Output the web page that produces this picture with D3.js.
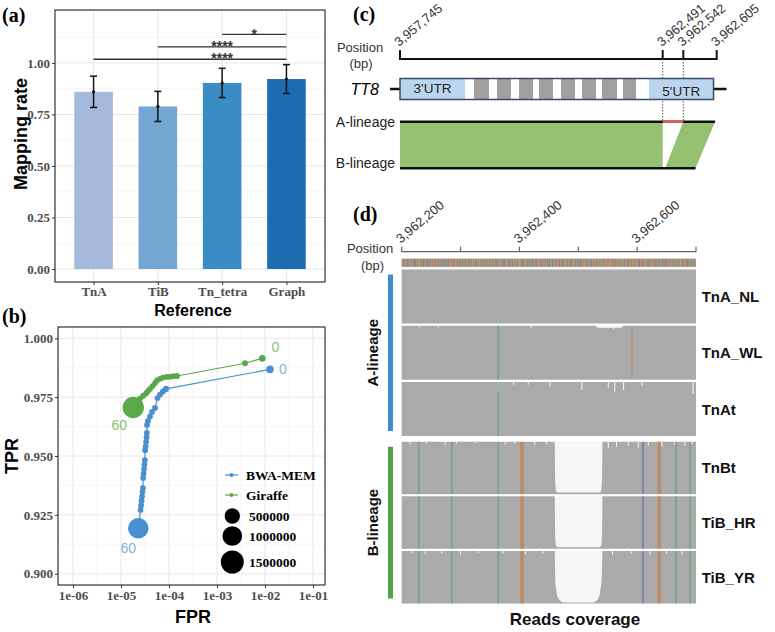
<!DOCTYPE html>
<html>
<head>
<meta charset="utf-8">
<script src="https://cdn.jsdelivr.net/npm/d3@7"></script>
<style>
  body { margin: 0; background: #fff; }
</style>
</head>
<body>
<script>
// ---------- (a) mapping rate ----------
const references = ["TnA", "TiB", "Tn_tetra", "Graph"];
const mappingRate = [0.860, 0.789, 0.903, 0.922];
const mappingSd = [0.076, 0.073, 0.071, 0.070];
const refColors = ["#a4b9dc", "#73a6d3", "#3a8cc5", "#1c6db0"];
// [from, to, label, y position, label placed at]
const sigTests = [
  ["TnA", "Graph", "****", 1.018, "Tn_tetra"],
  ["TiB", "Graph", "****", 1.078, null],
  ["Tn_tetra", "Graph", "*", 1.139, null]
];

// ---------- (b) ROC by MAPQ ----------
const bwaFpr = [1.27e-2, 8.66e-5, 7.50e-5, 6.49e-5, 5.75e-5, 5.11e-5, 4.43e-5, 4.02e-5, 3.65e-5, 3.48e-5,
  3.46e-5, 3.40e-5, 3.33e-5, 3.26e-5, 3.19e-5, 3.14e-5, 3.08e-5, 3.02e-5, 2.96e-5, 2.90e-5,
  2.86e-5, 2.80e-5, 2.74e-5, 2.68e-5, 2.62e-5, 2.56e-5, 2.29e-5];
const bwaTpr = [0.9868, 0.9785, 0.9774, 0.9761, 0.9746, 0.9704, 0.9687, 0.9668, 0.9649, 0.9632,
  0.9598, 0.9579, 0.9559, 0.9540, 0.9525, 0.9483, 0.9464, 0.9445, 0.9426, 0.9407,
  0.9364, 0.9347, 0.9328, 0.9309, 0.9290, 0.9271, 0.9193];
const bwaCount = [32000, 6000, 4000, 3500, 3000, 3000, 2500, 2500, 2500, 2500,
  2500, 2500, 2500, 2500, 2500, 2500, 2500, 2500, 2500, 2500,
  2500, 2500, 2500, 2500, 2500, 2500, 1106000];
const giraffeFpr = [8.79e-3, 3.83e-3, 1.47e-4, 1.24e-4, 1.05e-4, 8.87e-5, 7.50e-5, 6.49e-5, 5.62e-5,
  5.11e-5, 4.53e-5, 4.02e-5, 3.65e-5, 3.32e-5, 2.87e-5, 2.49e-5, 2.21e-5, 1.80e-5];
const giraffeTpr = [0.9915, 0.9894, 0.9840, 0.9839, 0.9837, 0.9836, 0.9833, 0.9828, 0.9821,
  0.9810, 0.9797, 0.9785, 0.9776, 0.9766, 0.9755, 0.9744, 0.9734, 0.9706];
const giraffeCount = [14000, 4000, 3500, 3000, 3000, 3000, 3000, 3000, 3000,
  3000, 3000, 3000, 3000, 3000, 3000, 3000, 3500, 1230000];
const mapqRange = [0, 60];
const sizeBreaks = [500000, 1000000, 1500000];
const fprTicks = [1e-6, 1e-5, 1e-4, 1e-3, 1e-2, 1e-1];
const tprTicks = [0.900, 0.925, 0.950, 0.975, 1.000];

// ---------- (c) TT8 locus ----------
const locusTicks = [3957745, 3962491, 3962542, 3962605];
const geneSpan = [3957745, 3962599];
const utr3 = [3957745, 3958919];
const utr5 = [3962243, 3962599];
const exons = [[3959082, 3959353], [3959497, 3959750], [3959895, 3960148], [3960256, 3960509],
  [3960654, 3960907], [3961033, 3961286], [3961394, 3961665], [3961774, 3962009]];
const aLineageSpan = [3957745, 3962602];
const bLineageSpan = [3957745, 3962565];
const insertion = [3962491, 3962542];
// [A start, A end, B start, B end]
const syntenyBlocks = [[3957745, 3962491, 3957745, 3962491], [3962542, 3962602, 3962497, 3962565]];

// ---------- (d) read coverage ----------
const windowRange = [3962200, 3962700];
const windowTicks = [3962200, 3962300, 3962400, 3962500, 3962600, 3962700];
const windowLabels = [3962200, 3962400, 3962600];
const refSeq =
  "ATGCTAGGCTTACGATCGGATCCTAGCTAGGATCAATCGTAGCTTAGCAT" +
  "GCTAGCTTAGGCTAACGTTAGCCATGCAATCGGCTAGTTCAGGATCGATC" +
  "CGATTAGCTAGGCATCGATTGCAAGCTTAGCGGATACGTTAGCATCGAGT" +
  "TAGCCGATGCTTAACGGATCGATCCTAGGCATGCTAATCGGTACGATCGA" +
  "GGCTATTCGAACGTTAGCGATCCGTAGCTTACGGATCAGTCGATTAGCCA" +
  "TCGAGCTTAGCAATCGGCTAGCATTCGGATGCTAGACTTGCAGGCTAATC" +
  "AGCTTCGGATAGCTACGATGCCTAGATCGGTTACGCATGAATCGCTAGGT" +
  "CTAGGATCGTTAGCCGATACGTTGCAAGCTAGGCTTCGATACGGCTAGAT" +
  "GATCCGTAGCTTAGGCAATCGTACGATCGGCTTAGCATCGGATCCATGCT" +
  "TAGCGATCGGCTAACGTTAGCTAGGACTCGATGCTTACGGATCAAGCTAG";
const aSamples = ["TnA_NL", "TnA_WL", "TnAt"];
const bSamples = ["TnBt", "TiB_HR", "TiB_YR"];
const covFlat = [[3962200, 1], [3962700, 1]];
const covTnAWL = [[3962200, 1], [3962530, 1], [3962532, 0.965], [3962574, 0.965], [3962576, 1], [3962700, 1]];
const covBSharp = [[3962200, 1], [3962460, 1], [3962460.6, 0.3], [3962461.6, 0.08], [3962464, 0.03],
  [3962537, 0.03], [3962539.4, 0.08], [3962540.4, 0.3], [3962541, 1], [3962700, 1]];
const covTiBYR = [[3962200, 1], [3962460, 1], [3962461, 0.4], [3962464, 0.15], [3962468, 0.06], [3962474, 0.02],
  [3962526, 0.02], [3962532, 0.06], [3962536, 0.15], [3962539.5, 0.4], [3962541, 1], [3962700, 1]];
// [sample, position, alt base, allele fraction]
const aLineageSnps = [["TnA_WL", 3962364, "A", 0.55], ["TnA_WL", 3962591, "G", 0.3], ["TnAt", 3962364, "A", 0.5]];
const bLineageSnps = [[3962229, "A", 0.5], [3962285, "A", 0.5], [3962364, "A", 0.5], [3962403, "G", 0.6],
  [3962406, "G", 0.6], [3962610, "C", 0.5], [3962636, "G", 0.55], [3962639, "G", 0.55],
  [3962666, "A", 0.5], [3962690, "A", 0.5]];
// coverage dips: [sample, position, fraction of depth lost]
const coverageDips = [
  ["TnA_WL", 3962230, 0.03], ["TnA_WL", 3962262, 0.03], ["TnA_WL", 3962420, 0.04], ["TnA_WL", 3962560, 0.06],
  ["TnAt", 3962364, 0.18], ["TnAt", 3962390, 0.05], ["TnAt", 3962415, 0.05], ["TnAt", 3962452, 0.09],
  ["TnAt", 3962506, 0.15], ["TnAt", 3962551, 0.11], ["TnAt", 3962562, 0.18], ["TnAt", 3962577, 0.15],
  ["TnAt", 3962608, 0.07], ["TnAt", 3962695, 0.22],
  ["TnBt", 3962214, 0.05], ["TnBt", 3962242, 0.04], ["TnBt", 3962274, 0.06], ["TnBt", 3962293, 0.04],
  ["TnBt", 3962325, 0.03], ["TnBt", 3962376, 0.05], ["TnBt", 3962392, 0.04], ["TnBt", 3962426, 0.06],
  ["TnBt", 3962446, 0.05], ["TnBt", 3962551, 0.12], ["TnBt", 3962565, 0.1], ["TnBt", 3962585, 0.08],
  ["TnBt", 3962602, 0.12], ["TnBt", 3962619, 0.07], ["TnBt", 3962642, 0.09], ["TnBt", 3962664, 0.06],
  ["TnBt", 3962681, 0.08], ["TnBt", 3962693, 0.05],
  ["TiB_YR", 3962218, 0.04], ["TiB_YR", 3962240, 0.06], ["TiB_YR", 3962268, 0.05], ["TiB_YR", 3962300, 0.08],
  ["TiB_YR", 3962330, 0.04], ["TiB_YR", 3962372, 0.05], ["TiB_YR", 3962410, 0.07], ["TiB_YR", 3962440, 0.05],
  ["TiB_YR", 3962558, 0.08], ["TiB_YR", 3962590, 0.05], ["TiB_YR", 3962622, 0.07], ["TiB_YR", 3962650, 0.05],
  ["TiB_YR", 3962676, 0.06]
];

const SANS = '"Liberation Sans", Arial, sans-serif';
const SERIF = '"Liberation Serif", "Times New Roman", serif';
const baseColor = { A: "#5c9a5c", C: "#4d6aa0", G: "#c1853d", T: "#b94b4b" };
const snpColor = { A: "#3d9a50", C: "#3050c0", G: "#d2691e", T: "#d02020" };

const svg = d3.select("body").append("svg")
  .attr("width", 775).attr("height", 632)
  .style("background", "#fff");

function panelLabel(x, y, t) {
  svg.append("text").attr("x", x).attr("y", y)
    .attr("font-family", SERIF).attr("font-weight", "bold").attr("font-size", 20)
    .text(t);
}

function styleAxis(g) {
  g.select(".domain").remove();
  g.selectAll("line").attr("stroke", "#333");
  g.selectAll("text").attr("fill", "#4d4d4d")
    .attr("font-family", SERIF).attr("font-weight", "bold").attr("font-size", 13);
}

// ================= (a) =================
panelLabel(2, 22, "(a)");
const aLeft = 55, aRight = 325, aTop = 10, aBottom = 282;
const ax = d3.scalePoint().domain(references).range([aLeft, aRight]).padding(0.6);
const ay = d3.scaleLinear().domain([-0.063, 1.257]).range([aBottom, aTop]);
const ga = svg.append("g");

ga.append("g").selectAll("line").data([0.125, 0.375, 0.625, 0.875, 1.125]).join("line")
  .attr("x1", aLeft).attr("x2", aRight).attr("y1", ay).attr("y2", ay)
  .attr("stroke", "#f2f2f2").attr("stroke-width", 0.7);
ga.append("g").selectAll("line").data([0, 0.25, 0.5, 0.75, 1]).join("line")
  .attr("x1", aLeft).attr("x2", aRight).attr("y1", ay).attr("y2", ay)
  .attr("stroke", "#e8e8e8").attr("stroke-width", 1);
ga.append("g").selectAll("line").data(references).join("line")
  .attr("x1", ax).attr("x2", ax).attr("y1", aTop).attr("y2", aBottom)
  .attr("stroke", "#e8e8e8").attr("stroke-width", 1);

const barW = ax.step() * 0.6;
ga.append("g").selectAll("rect").data(references).join("rect")
  .attr("x", d => ax(d) - barW / 2)
  .attr("y", (d, i) => ay(mappingRate[i]))
  .attr("width", barW)
  .attr("height", (d, i) => ay(0) - ay(mappingRate[i]))
  .attr("fill", (d, i) => refColors[i]);

const eb = ga.append("g").attr("stroke", "#111").attr("stroke-width", 1.5);
references.forEach((d, i) => {
  const x = ax(d), lo = ay(mappingRate[i] - mappingSd[i]), hi = ay(mappingRate[i] + mappingSd[i]);
  eb.append("line").attr("x1", x).attr("x2", x).attr("y1", lo).attr("y2", hi);
  eb.append("line").attr("x1", x - 3.5).attr("x2", x + 3.5).attr("y1", lo).attr("y2", lo);
  eb.append("line").attr("x1", x - 3.5).attr("x2", x + 3.5).attr("y1", hi).attr("y2", hi);
  ga.append("circle").attr("cx", x).attr("cy", ay(mappingRate[i])).attr("r", 1.6).attr("fill", "#111");
});

sigTests.forEach(([from, to, label, yPos, at]) => {
  const y = ay(yPos);
  ga.append("line").attr("x1", ax(from)).attr("x2", ax(to)).attr("y1", y).attr("y2", y)
    .attr("stroke", "#333").attr("stroke-width", 1.3);
  const lx = at ? ax(at) : (ax(from) + ax(to)) / 2;
  ga.append("text").attr("x", lx).attr("y", y + 4.2).attr("text-anchor", "middle")
    .attr("font-family", SANS).attr("font-weight", "bold").attr("font-size", 14).attr("fill", "#333").text(label);
});

ga.append("rect").attr("x", aLeft).attr("y", aTop).attr("width", aRight - aLeft).attr("height", aBottom - aTop)
  .attr("fill", "none").attr("stroke", "#333").attr("stroke-width", 1.2);

ga.append("g").attr("transform", `translate(${aLeft},0)`)
  .call(d3.axisLeft(ay).tickValues([0, 0.25, 0.5, 0.75, 1]).tickFormat(d3.format(".2f")).tickSize(3).tickPadding(2))
  .call(styleAxis);
ga.append("g").attr("transform", `translate(0,${aBottom})`)
  .call(d3.axisBottom(ax).tickSize(3).tickPadding(2))
  .call(styleAxis);

ga.append("text").attr("transform", `translate(27,${(aTop + aBottom) / 2 - 12}) rotate(-90)`)
  .attr("text-anchor", "middle").attr("font-family", SANS).attr("font-weight", "bold").attr("font-size", 18)
  .text("Mapping rate");
ga.append("text").attr("x", 193).attr("y", 316).attr("text-anchor", "middle")
  .attr("font-family", SANS).attr("font-weight", "bold").attr("font-size", 16).text("Reference");

// ================= (b) =================
panelLabel(2, 323, "(b)");
const bLeft = 58, bRight = 325, bTop = 327, bBottom = 585;
const bx = d3.scaleLog().domain([Math.pow(10, -6.3125), Math.pow(10, -0.75)]).range([bLeft, bRight]);
const by = d3.scaleLinear().domain([0.89521, 1.0048]).range([bBottom, bTop]);
const rSize = d3.scalePow().exponent(0.5).domain([0, 1500000]).range([2.5, 11.5]);
const gb = svg.append("g");

const fprMinor = fprTicks.slice(0, -1).map(d => d * Math.sqrt(10)).filter(d => bx(d) < bRight);
const tprMinor = tprTicks.slice(0, -1).map(d => d + 0.0125);
gb.append("g").selectAll("line").data(fprMinor).join("line")
  .attr("x1", bx).attr("x2", bx).attr("y1", bTop).attr("y2", bBottom)
  .attr("stroke", "#f2f2f2").attr("stroke-width", 0.7);
gb.append("g").selectAll("line").data(tprMinor).join("line")
  .attr("x1", bLeft).attr("x2", bRight).attr("y1", by).attr("y2", by)
  .attr("stroke", "#f2f2f2").attr("stroke-width", 0.7);
gb.append("g").selectAll("line").data(fprTicks).join("line")
  .attr("x1", bx).attr("x2", bx).attr("y1", bTop).attr("y2", bBottom)
  .attr("stroke", "#e8e8e8").attr("stroke-width", 1);
gb.append("g").selectAll("line").data(tprTicks).join("line")
  .attr("x1", bLeft).attr("x2", bRight).attr("y1", by).attr("y2", by)
  .attr("stroke", "#e8e8e8").attr("stroke-width", 1);

const series = [
  { name: "Giraffe", fpr: giraffeFpr, tpr: giraffeTpr, count: giraffeCount, color: "#5aa949", label: "#87c171",
    off0: [13, -6], off60: [-14, 22] },
  { name: "BWA-MEM", fpr: bwaFpr, tpr: bwaTpr, count: bwaCount, color: "#4a8fcf", label: "#80b3e0",
    off0: [13, 5], off60: [-10, 25] }
];
const line = d3.line().x(d => bx(d[0])).y(d => by(d[1]));
series.forEach(s => {
  const pts = s.fpr.map((f, i) => [f, s.tpr[i], s.count[i]]);
  gb.append("path").attr("d", line(pts)).attr("fill", "none").attr("stroke", s.color).attr("stroke-width", 1.2);
  gb.append("g").selectAll("circle").data(pts).join("circle")
    .attr("cx", d => bx(d[0])).attr("cy", d => by(d[1])).attr("r", d => rSize(d[2]))
    .attr("fill", s.color);
  const first = pts[0], last = pts[pts.length - 1];
  gb.append("text").attr("x", bx(first[0]) + s.off0[0]).attr("y", by(first[1]) + s.off0[1])
    .attr("text-anchor", "middle").attr("font-family", SANS).attr("font-size", 14).attr("fill", s.label)
    .text(mapqRange[0]);
  gb.append("text").attr("x", bx(last[0]) + s.off60[0]).attr("y", by(last[1]) + s.off60[1])
    .attr("text-anchor", "middle").attr("font-family", SANS).attr("font-size", 14).attr("fill", s.label)
    .text(mapqRange[1]);
});

gb.append("rect").attr("x", bLeft).attr("y", bTop).attr("width", bRight - bLeft).attr("height", bBottom - bTop)
  .attr("fill", "none").attr("stroke", "#333").attr("stroke-width", 1.2);
gb.append("g").attr("transform", `translate(${bLeft},0)`)
  .call(d3.axisLeft(by).tickValues(tprTicks).tickFormat(d3.format(".3f")).tickSize(3).tickPadding(2))
  .call(styleAxis);
gb.append("g").attr("transform", `translate(0,${bBottom})`)
  .call(d3.axisBottom(bx).tickValues(fprTicks)
    .tickFormat(d => "1e-" + String(Math.round(-Math.log10(d))).padStart(2, "0")).tickSize(3).tickPadding(3))
  .call(styleAxis);

gb.append("text").attr("transform", `translate(18,${(bTop + bBottom) / 2}) rotate(-90)`)
  .attr("text-anchor", "middle").attr("font-family", SANS).attr("font-weight", "bold").attr("font-size", 18)
  .text("TPR");
gb.append("text").attr("x", 193).attr("y", 623).attr("text-anchor", "middle")
  .attr("font-family", SANS).attr("font-weight", "bold").attr("font-size", 18).text("FPR");

// legend
const lg = gb.append("g").attr("transform", "translate(225,475)");
[["BWA-MEM", "#4a8fcf"], ["Giraffe", "#5aa949"]].forEach(([n, c], i) => {
  const y = i * 20;
  lg.append("line").attr("x1", 0).attr("x2", 13).attr("y1", y).attr("y2", y).attr("stroke", c).attr("stroke-width", 1.2);
  lg.append("circle").attr("cx", 6.5).attr("cy", y).attr("r", 2).attr("fill", c);
  lg.append("text").attr("x", 21).attr("y", y + 4.5).attr("font-family", SERIF).attr("font-weight", "bold")
    .attr("font-size", 13.5).text(n);
});
const sizeY = [41, 61, 87];
sizeBreaks.forEach((v, i) => {
  lg.append("circle").attr("cx", 7.3).attr("cy", sizeY[i]).attr("r", rSize(v)).attr("fill", "#000");
  lg.append("text").attr("x", 24).attr("y", sizeY[i] + 4.5).attr("font-family", SERIF).attr("font-weight", "bold")
    .attr("font-size", 13.5).text(v);
});

// ================= (c) =================
panelLabel(353, 21, "(c)");
const cx = d3.scaleLinear().domain(locusTicks).range([400, 662.7, 683.3, 716.7]);
const gc = svg.append("g");
const cAxisY = 59, geneY = 89, aY = 121.7, bY = 168.3;

gc.append("text").attr("x", 360).attr("y", 52).attr("text-anchor", "middle")
  .attr("font-family", SANS).attr("font-size", 13).attr("fill", "#333").text("Position");
gc.append("text").attr("x", 361).attr("y", 68).attr("text-anchor", "middle")
  .attr("font-family", SANS).attr("font-size", 13).attr("fill", "#333").text("(bp)");

gc.append("line").attr("x1", cx(locusTicks[0])).attr("x2", cx(locusTicks[3])).attr("y1", cAxisY).attr("y2", cAxisY)
  .attr("stroke", "#111").attr("stroke-width", 2);
gc.append("g").selectAll("line").data(locusTicks).join("line")
  .attr("x1", cx).attr("x2", cx).attr("y1", cAxisY + 1).attr("y2", cAxisY - 9)
  .attr("stroke", "#111").attr("stroke-width", 2);
gc.append("g").selectAll("text").data(locusTicks).join("text")
  .attr("transform", d => `translate(${cx(d) - 1},${cAxisY - 12}) rotate(-40)`)
  .attr("font-family", SANS).attr("font-size", 13).attr("fill", "#333")
  .text(d3.format(","));

gc.append("g").selectAll("line").data(insertion).join("line")
  .attr("x1", cx).attr("x2", cx).attr("y1", cAxisY).attr("y2", aY)
  .attr("stroke", "#555").attr("stroke-width", 1).attr("stroke-dasharray", "1.5,1.5");

// gene model
gc.append("text").attr("x", 379).attr("y", geneY + 6).attr("text-anchor", "end")
  .attr("font-family", SANS).attr("font-style", "italic").attr("font-size", 16).text("TT8");
gc.append("line").attr("x1", cx(geneSpan[0]) - 10).attr("x2", cx(geneSpan[1]) + 13).attr("y1", geneY).attr("y2", geneY)
  .attr("stroke", "#111").attr("stroke-width", 2.5);
const gH = 21, gTop = geneY - 10.5;
gc.append("rect").attr("x", cx(geneSpan[0])).attr("y", gTop).attr("width", cx(geneSpan[1]) - cx(geneSpan[0]))
  .attr("height", gH).attr("fill", "#fff");
[utr3, utr5].forEach(u => gc.append("rect").attr("x", cx(u[0])).attr("y", gTop)
  .attr("width", cx(u[1]) - cx(u[0])).attr("height", gH).attr("fill", "#bcd5ee"));
gc.append("g").selectAll("rect").data(exons).join("rect")
  .attr("x", d => cx(d[0])).attr("y", gTop).attr("width", d => cx(d[1]) - cx(d[0])).attr("height", gH)
  .attr("fill", "#a0a0a0");
gc.append("rect").attr("x", cx(geneSpan[0])).attr("y", gTop).attr("width", cx(geneSpan[1]) - cx(geneSpan[0]))
  .attr("height", gH).attr("fill", "none").attr("stroke", "#3c4a66").attr("stroke-width", 1.5);
gc.append("text").attr("x", (cx(utr3[0]) + cx(utr3[1])) / 2).attr("y", geneY + 4).attr("text-anchor", "middle")
  .attr("font-family", SANS).attr("font-size", 13.5).attr("fill", "#222").text("3'UTR");
gc.append("text").attr("x", (cx(utr5[0]) + cx(utr5[1])) / 2).attr("y", geneY + 7).attr("text-anchor", "middle")
  .attr("font-family", SANS).attr("font-size", 13.5).attr("fill", "#222").text("5'UTR");

// synteny
gc.append("g").selectAll("path").data(syntenyBlocks).join("path")
  .attr("d", d => `M${cx(d[0])},${aY}L${cx(d[1])},${aY}L${cx(d[3])},${bY}L${cx(d[2])},${bY}Z`)
  .attr("fill", "#95c06f");
gc.append("line").attr("x1", cx(aLineageSpan[0])).attr("x2", cx(aLineageSpan[1])).attr("y1", aY).attr("y2", aY)
  .attr("stroke", "#111").attr("stroke-width", 2.5);
gc.append("line").attr("x1", cx(insertion[0])).attr("x2", cx(insertion[1])).attr("y1", aY).attr("y2", aY)
  .attr("stroke", "#e8595a").attr("stroke-width", 2.5);
gc.append("line").attr("x1", cx(bLineageSpan[0])).attr("x2", cx(bLineageSpan[1])).attr("y1", bY).attr("y2", bY)
  .attr("stroke", "#111").attr("stroke-width", 2.5);
gc.append("text").attr("x", 395).attr("y", aY + 5).attr("text-anchor", "end")
  .attr("font-family", SANS).attr("font-size", 14).attr("fill", "#222").text("A-lineage");
gc.append("text").attr("x", 395).attr("y", bY - 0.5).attr("text-anchor", "end")
  .attr("font-family", SANS).attr("font-size", 14).attr("fill", "#222").text("B-lineage");

// ================= (d) =================
panelLabel(353, 221, "(d)");
const dx = d3.scaleLinear().domain(windowRange).range([401.7, 696]);
const gd = svg.append("g");
const dAxisY = 251.7;

gd.append("text").attr("x", 370).attr("y", 252.5).attr("text-anchor", "middle")
  .attr("font-family", SANS).attr("font-size", 13).attr("fill", "#333").text("Position");
gd.append("text").attr("x", 372.5).attr("y", 269.5).attr("text-anchor", "middle")
  .attr("font-family", SANS).attr("font-size", 13).attr("fill", "#333").text("(bp)");

gd.append("line").attr("x1", dx(windowRange[0])).attr("x2", dx(windowRange[1])).attr("y1", dAxisY).attr("y2", dAxisY)
  .attr("stroke", "#666").attr("stroke-width", 1.2);
gd.append("g").selectAll("line").data(windowTicks).join("line")
  .attr("x1", dx).attr("x2", dx).attr("y1", dAxisY).attr("y2", dAxisY - 5)
  .attr("stroke", "#666").attr("stroke-width", 1.2);
gd.append("g").selectAll("text").data(windowLabels).join("text")
  .attr("transform", d => `translate(${dx(d) - 1},${dAxisY - 8}) rotate(-40)`)
  .attr("font-family", SANS).attr("font-size", 13).attr("fill", "#333")
  .text(d3.format(","));

// reference sequence strip
const seqBand = d3.scaleBand().domain(d3.range(refSeq.length)).range([dx(windowRange[0]), dx(windowRange[1])]);
gd.append("rect").attr("x", dx(windowRange[0])).attr("y", 258.3).attr("width", dx(windowRange[1]) - dx(windowRange[0]))
  .attr("height", 9).attr("fill", "#e9e3dc");
gd.append("g").selectAll("rect").data(refSeq.split("")).join("rect")
  .attr("x", (d, i) => seqBand(i)).attr("y", 258.8).attr("width", seqBand.bandwidth()).attr("height", 8)
  .attr("fill", d => baseColor[d]);

// coverage tracks
const groups = [
  { name: "A-lineage", samples: aSamples, range: [269.5, 436], color: "#3d8bd0" },
  { name: "B-lineage", samples: bSamples, range: [441.7, 603.5], color: "#4ea34a" }
];
const covBySample = { TnA_NL: covFlat, TnA_WL: covTnAWL, TnAt: covFlat, TnBt: covBSharp, TiB_HR: covBSharp, TiB_YR: covTiBYR };
const xL = dx(windowRange[0]), xR = dx(windowRange[1]);

groups.forEach(g => {
  const band = d3.scaleBand().domain(g.samples).range(g.range).paddingInner(0.04);
  const h = band.bandwidth();
  g.samples.forEach(s => {
    const y0 = band(s), yb = y0 + h;
    const tg = gd.append("g");
    tg.append("rect").attr("x", xL).attr("y", y0).attr("width", xR - xL).attr("height", h).attr("fill", "#f5f6f8");
    const area = d3.area().x(d => dx(d[0])).y0(yb).y1(d => yb - d[1] * h);
    tg.append("path").attr("d", area(covBySample[s])).attr("fill", "#aaaaaa");
    // dips in depth
    tg.selectAll(".dip").data(coverageDips.filter(d => d[0] === s)).join("rect")
      .attr("x", d => dx(d[1]) - 0.5).attr("y", y0).attr("width", 1).attr("height", d => d[2] * h)
      .attr("fill", "#f5f6f8");
    // mismatches
    const snps = g.name === "A-lineage"
      ? aLineageSnps.filter(d => d[0] === s).map(d => [d[1], d[2], d[3]])
      : bLineageSnps;
    tg.selectAll(".snp").data(snps).join("rect")
      .attr("x", d => dx(d[0]) - 0.75).attr("y", y0).attr("width", 1.5).attr("height", h)
      .attr("fill", d => snpColor[d[1]]).attr("opacity", d => d[2]);
    gd.append("text").attr("x", 701.7).attr("y", y0 + h / 2 + 5.5)
      .attr("font-family", SANS).attr("font-weight", "bold").attr("font-size", 15).attr("fill", "#111").text(s);
  });
  gd.append("rect").attr("x", 388).attr("y", g.range[0] + 5).attr("width", 5)
    .attr("height", g.range[1] - g.range[0] - 10).attr("fill", g.color);
  gd.append("text").attr("transform", `translate(377.5,${(g.range[0] + g.range[1]) / 2}) rotate(-90)`)
    .attr("text-anchor", "middle").attr("font-family", SANS).attr("font-weight", "bold").attr("font-size", 15)
    .attr("fill", "#111").text(g.name);
});

gd.append("text").attr("x", 575).attr("y", 625).attr("text-anchor", "middle")
  .attr("font-family", SANS).attr("font-weight", "bold").attr("font-size", 17).attr("fill", "#111").text("Reads coverage");
</script>
</body>
</html>
